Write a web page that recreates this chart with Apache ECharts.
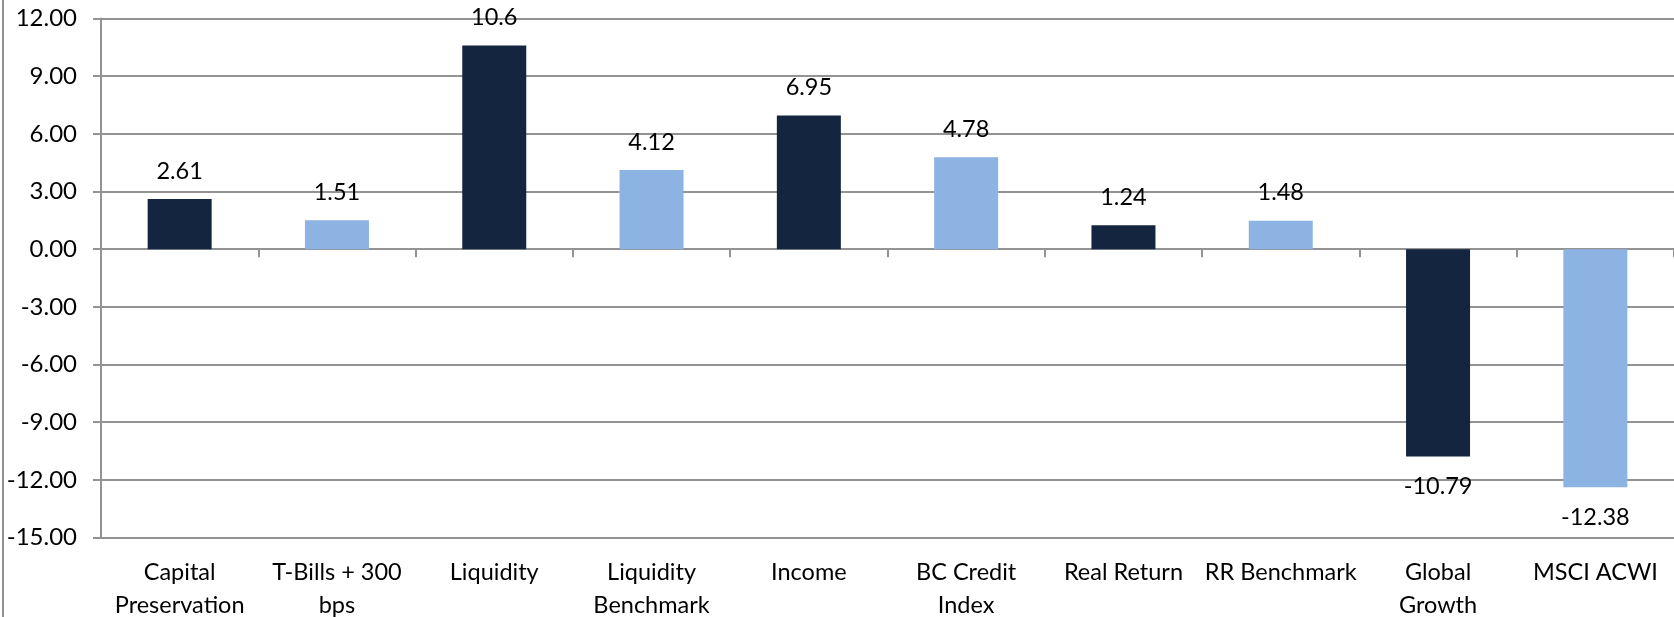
<!DOCTYPE html>
<html>
<head>
<meta charset="utf-8">
<script src="https://cdn.jsdelivr.net/npm/echarts@6/dist/echarts.min.js"></script>
<style>
  html, body { margin: 0; padding: 0; background: #fff; }
  #chart { width: 1674px; height: 617px; }
</style>
</head>
<body>
<div id="chart"></div>
<script>
// categories and values
var categories = ['Capital\nPreservation', 'T-Bills + 300\nbps', 'Liquidity', 'Liquidity\nBenchmark', 'Income',
  'BC Credit\nIndex', 'Real Return', 'RR Benchmark', 'Global\nGrowth', 'MSCI ACWI'];
var values = [2.61, 1.51, 10.6, 4.12, 6.95, 4.78, 1.24, 1.48, -10.79, -12.38];
var barColors = ['#13253f', '#8db3e2'];

var yMin = -15;
var yMax = 12;
var yStep = 3;

var FONT = 'Lato, "Open Sans", sans-serif';
var GRID_COLOR = '#939393';

var chart = echarts.init(document.getElementById('chart'), null, { renderer: 'canvas' });

// 每根柱子颜色交替，负值标签放在柱子下方
var barData = values.map(function (v, i) {
  return {
    value: v,
    itemStyle: { color: barColors[i % 2] },
    label: { position: v < 0 ? 'bottom' : 'top', distance: v < 0 ? 18 : 16 }
  };
});

var option = {
  animation: false,
  backgroundColor: '#fff',
  textStyle: { fontFamily: FONT },
  grid: { left: 101, right: 0, top: 18.5, bottom: 617 - 537.5, outerBoundsMode: 'none', containLabel: false },
  graphic: [
    {
      type: 'line',
      shape: { x1: 3, y1: 0, x2: 3, y2: 617 },
      style: { stroke: GRID_COLOR, lineWidth: 2 }
    }
  ],
  xAxis: [
    {
      type: 'category',
      data: categories,
      position: 'bottom',
      axisLine: { show: false, onZero: false },
      axisTick: { show: false },
      axisLabel: {
        color: '#000',
        fontFamily: FONT,
        fontSize: 23.5,
        lineHeight: 33,
        margin: 18,
        interval: 0
      }
    },
    {
      // 零线上的刻度轴
      type: 'category',
      data: categories,
      position: 'bottom',
      axisLine: { show: true, onZero: true, lineStyle: { color: GRID_COLOR, width: 2 } },
      axisTick: { show: true, inside: false, length: 8, lineStyle: { color: GRID_COLOR, width: 2 } },
      axisLabel: { show: false }
    }
  ],
  yAxis: {
    type: 'value',
    min: yMin,
    max: yMax,
    interval: yStep,
    axisLine: { show: true, lineStyle: { color: GRID_COLOR, width: 2 } },
    axisTick: { show: true, length: 8, lineStyle: { color: GRID_COLOR, width: 2 } },
    splitLine: { show: true, lineStyle: { color: GRID_COLOR, width: 2 } },
    axisLabel: {
      color: '#000',
      fontFamily: FONT,
      fontSize: 24,
      margin: 24,
      formatter: function (v) { return v.toFixed(2); }
    }
  },
  series: [
    {
      name: 'Return',
      type: 'bar',
      xAxisIndex: 0,
      barWidth: 64,
      data: barData,
      label: {
        show: true,
        color: '#000',
        fontFamily: FONT,
        fontSize: 23.5,
        formatter: function (p) { return String(p.value); }
      }
    }
  ]
};
chart.setOption(option);
</script>
</body>
</html>
